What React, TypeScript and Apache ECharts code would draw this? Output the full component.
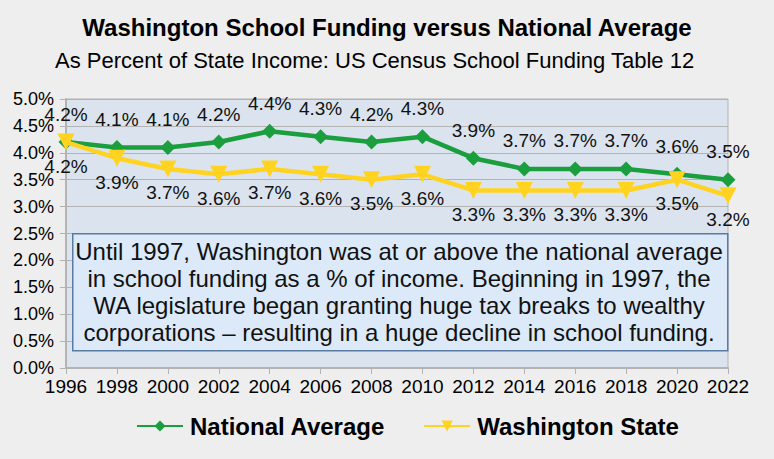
import React, { useEffect, useRef } from "react";
import * as echarts from "echarts";

const years = ["1996","1998","2000","2002","2004","2006","2008","2010","2012","2014","2016","2018","2020","2022"];
const nationalAverage = [4.2,4.1,4.1,4.2,4.4,4.3,4.2,4.3,3.9,3.7,3.7,3.7,3.6,3.5];
const washingtonState = [4.2,3.9,3.7,3.6,3.7,3.6,3.5,3.6,3.3,3.3,3.3,3.3,3.5,3.2];
const noteLines = [
  "Until 1997, Washington was at or above the national average",
  "in school funding as a % of income. Beginning in 1997, the",
  "WA legislature began granting huge tax breaks to wealthy",
  "corporations \u2013 resulting in a huge decline in school funding.",
];

const FONT = "'Liberation Sans', Arial, sans-serif";

export default function App() {
  const ref = useRef<HTMLDivElement>(null);
  useEffect(() => {
    if (!ref.current) return;
    const chart = echarts.init(ref.current, null, { renderer: "svg" });
    chart.setOption({
      animation: false,
      backgroundColor: "#eeeeee",
      textStyle: { fontFamily: FONT },
      title: [
        {
          text: "Washington School Funding versus National Average",
          left: "center",
          top: 10,
          textStyle: { fontFamily: FONT, fontSize: 24, fontWeight: "bold", color: "#000" },
        },
        {
          text: "As Percent of State Income: US Census School Funding Table 12",
          left: 50,
          top: 44,
          textStyle: { fontFamily: FONT, fontSize: 22, fontWeight: "normal", color: "#000" },
        },
      ],
      grid: {
        left: 66, right: 46, top: 99, bottom: 91,
        show: true, backgroundColor: "#dbe4ee", borderColor: "#b3b3b3", borderWidth: 1,
      },
      xAxis: {
        type: "category",
        data: years,
        boundaryGap: false,
        axisLine: { lineStyle: { color: "#b3b3b3", width: 2 } },
        axisTick: { show: true, interval: 0, length: 6, lineStyle: { color: "#b3b3b3" } },
        axisLabel: { color: "#000", fontSize: 19, fontFamily: FONT, margin: 9, interval: 0, hideOverlap: false },
        splitLine: { show: false },
      },
      yAxis: {
        type: "value",
        min: 0, max: 5, interval: 0.5,
        axisLine: { show: true, lineStyle: { color: "#b3b3b3", width: 2 } },
        axisTick: { show: true, length: 6, lineStyle: { color: "#b3b3b3" } },
        axisLabel: { color: "#000", fontSize: 18, fontFamily: FONT, margin: 12, formatter: (v: number) => v.toFixed(1) + "%" },
        splitLine: { lineStyle: { color: "#b3b3b3", width: 1 } },
      },
      legend: {
        bottom: 16,
        left: 131,
        itemWidth: 46,
        itemHeight: 14,
        itemGap: 38,
        textStyle: { fontFamily: FONT, fontSize: 24, fontWeight: "bold", color: "#000", padding: [0, 0, 0, 2] },
        data: ["National Average", "Washington State"],
      },
      series: [
        {
          name: "National Average",
          type: "line",
          data: nationalAverage,
          symbol: "diamond",
          symbolSize: 15,
          lineStyle: { color: "#1b9e3e", width: 4.5 },
          itemStyle: { color: "#1b9e3e" },
          label: {
            show: true, position: "top", distance: 11,
            fontSize: 19, fontFamily: FONT, color: "#111",
            formatter: (p: any) => p.value.toFixed(1) + "%",
          },
          z: 3,
        },
        {
          name: "Washington State",
          type: "line",
          data: washingtonState,
          symbol: "triangle",
          symbolRotate: 180,
          symbolSize: 17,
          lineStyle: { color: "#ffd320", width: 4.5 },
          itemStyle: { color: "#ffd320" },
          label: {
            show: true, position: "bottom", distance: 6,
            fontSize: 19, fontFamily: FONT, color: "#111",
            formatter: (p: any) => p.value.toFixed(1) + "%",
          },
          z: 4,
        },
      ],
      graphic: [
        {
          type: "rect",
          left: 72, top: 233,
          shape: { width: 655, height: 117 },
          style: { fill: "#dce9f8", stroke: "#5a7aa6", lineWidth: 1.5 },
          z: 10,
        },
        ...noteLines.map((t, i) => ({
          type: "text",
          x: 399, y: 251 + i * 27,
          style: {
            text: t, fill: "#111", fontSize: 24, fontFamily: FONT,
            textAlign: "center", textVerticalAlign: "middle",
          },
          z: 11,
        })),
      ],
    });
    return () => chart.dispose();
  }, []);
  return <div ref={ref} style={{ width: 774, height: 459, position: "absolute", left: 0, top: 0 }} />;
}
